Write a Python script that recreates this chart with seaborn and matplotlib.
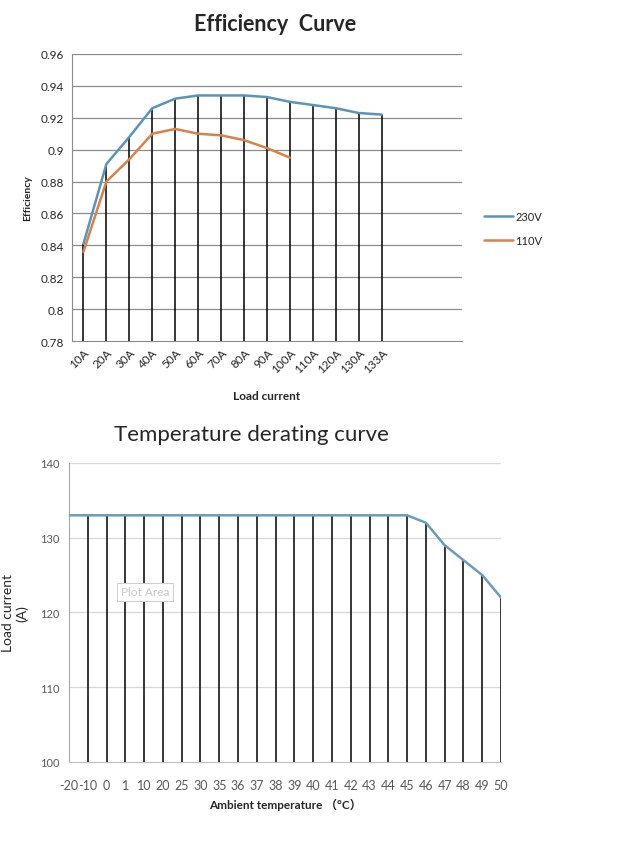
import numpy as np
import pandas as pd
import seaborn as sns
from matplotlib import pyplot as plt

load_labels = ["10A", "20A", "30A", "40A", "50A", "60A", "70A", "80A",
               "90A", "100A", "110A", "120A", "130A", "133A"]
eff_230v = [0.841, 0.891, 0.908, 0.926, 0.932, 0.934, 0.934, 0.934,
            0.933, 0.930, 0.928, 0.926, 0.923, 0.922]
eff_110v = [0.836, 0.880, 0.894, 0.910, 0.913, 0.910, 0.909, 0.906,
            0.901, 0.895]
eff_ticks = [0.78, 0.8, 0.82, 0.84, 0.86, 0.88, 0.9, 0.92, 0.94, 0.96]

temp_labels = ["-20", "-10", "0", "1", "10", "20", "25", "30", "35", "36",
               "37", "38", "39", "40", "41", "42", "43", "44", "45", "46",
               "47", "48", "49", "50"]
derating = [133, 133, 133, 133, 133, 133, 133, 133, 133, 133,
            133, 133, 133, 133, 133, 133, 133, 133, 133, 132,
            129, 127, 125, 122]
current_ticks = [100, 110, 120, 130, 140]

blue = "#5b93ba"
orange = "#d8824a"

sns.set_style("white")
plt.rcParams["font.family"] = ["Lato", "Noto Sans CJK SC", "DejaVu Sans"]

fig = plt.figure(figsize=(6.28, 8.54), dpi=100)

# ---- efficiency curve ----
ax1 = fig.add_axes([0.1146, 0.5995, 0.6211, 0.3361])
pos = np.arange(len(load_labels))
df = pd.DataFrame({"pos": np.concatenate([pos, pos[:len(eff_110v)]]),
                   "eff": eff_230v + eff_110v,
                   "series": ["230V"] * len(eff_230v) + ["110V"] * len(eff_110v)})
for t in eff_ticks[1:]:
    ax1.axhline(t, color="#8c8c8c", lw=0.9, zorder=0)
ax1.vlines(pos, eff_ticks[0], eff_230v, color="black", lw=1.1, zorder=1)
sns.lineplot(data=df, x="pos", y="eff", hue="series",
             palette={"230V": blue, "110V": orange}, lw=1.8, ax=ax1, zorder=3)
ax1.set_xlim(-0.5, 16.5)
ax1.set_ylim(eff_ticks[0], eff_ticks[-1])
ax1.set_yticks(eff_ticks, [f"{t:g}" for t in eff_ticks], fontsize=8.5)
ax1.set_xticks(pos, load_labels, rotation=45, ha="right",
               rotation_mode="anchor", fontsize=8.5)
ax1.tick_params(axis="y", length=4, color="#8c8c8c", pad=2)
ax1.tick_params(axis="x", length=0, pad=4)
for s in ["top", "right"]:
    ax1.spines[s].set_visible(False)
ax1.spines["left"].set_color("#8c8c8c")
ax1.spines["bottom"].set_color("#8c8c8c")
ax1.set_ylabel("Efficiency", fontsize=7.5, fontweight="bold", labelpad=6)
ax1.set_xlabel("Load current", fontsize=8.5, fontweight="bold", labelpad=11)
handles, labels = ax1.get_legend_handles_labels()
ax1.legend(handles, labels, loc="center left",
           bbox_to_anchor=(0.755, 0.731), bbox_transform=fig.transFigure,
           frameon=False, fontsize=8, handlelength=2.6, handletextpad=0.2,
           labelspacing=1.15)
fig.text(0.438, 0.971, "Efficiency  Curve", ha="center", va="center",
         fontsize=15.5, fontweight="bold")

# ---- temperature derating curve ----
ax2 = fig.add_axes([0.1099, 0.1066, 0.6879, 0.3501])
tpos = np.arange(len(temp_labels))
for t in current_ticks[1:]:
    ax2.axhline(t, color="#d9d9d9", lw=0.9, zorder=0)
ax2.vlines(tpos, current_ticks[0], derating, color="black", lw=1.1, zorder=1)
sns.lineplot(x=tpos, y=derating, color="#6b9cbd", lw=1.8, ax=ax2, zorder=3)
ax2.set_xlim(0, len(temp_labels) - 1)
ax2.set_ylim(current_ticks[0], current_ticks[-1])
ax2.set_yticks(current_ticks, [str(t) for t in current_ticks], fontsize=8,
               color="#595959")
ax2.set_xticks(tpos, temp_labels, fontsize=9, color="#595959")
ax2.tick_params(axis="y", length=4, color="#bfbfbf", pad=3)
ax2.tick_params(axis="x", length=0, pad=12)
for s in ["top", "right"]:
    ax2.spines[s].set_visible(False)
ax2.spines["left"].set_color("#a6a6a6")
ax2.spines["bottom"].set_color("#bfbfbf")
ax2.set_ylabel("Load current\n(A)", fontsize=10, labelpad=8)
ax2.set_xlabel("Ambient temperature （°C）", fontsize=8.5, fontweight="bold",
               labelpad=5)
fig.text(0.40, 0.491, "Temperature derating curve", ha="center", va="center",
         fontsize=16)
fig.text(0.231, 0.306, "Plot Area", ha="center", va="center", fontsize=8.5,
         color="#c8c8c8",
         bbox=dict(boxstyle="square,pad=0.3", fc="white", ec="#d0d0d0", lw=0.8))

fig.savefig("out.png", dpi=100)
